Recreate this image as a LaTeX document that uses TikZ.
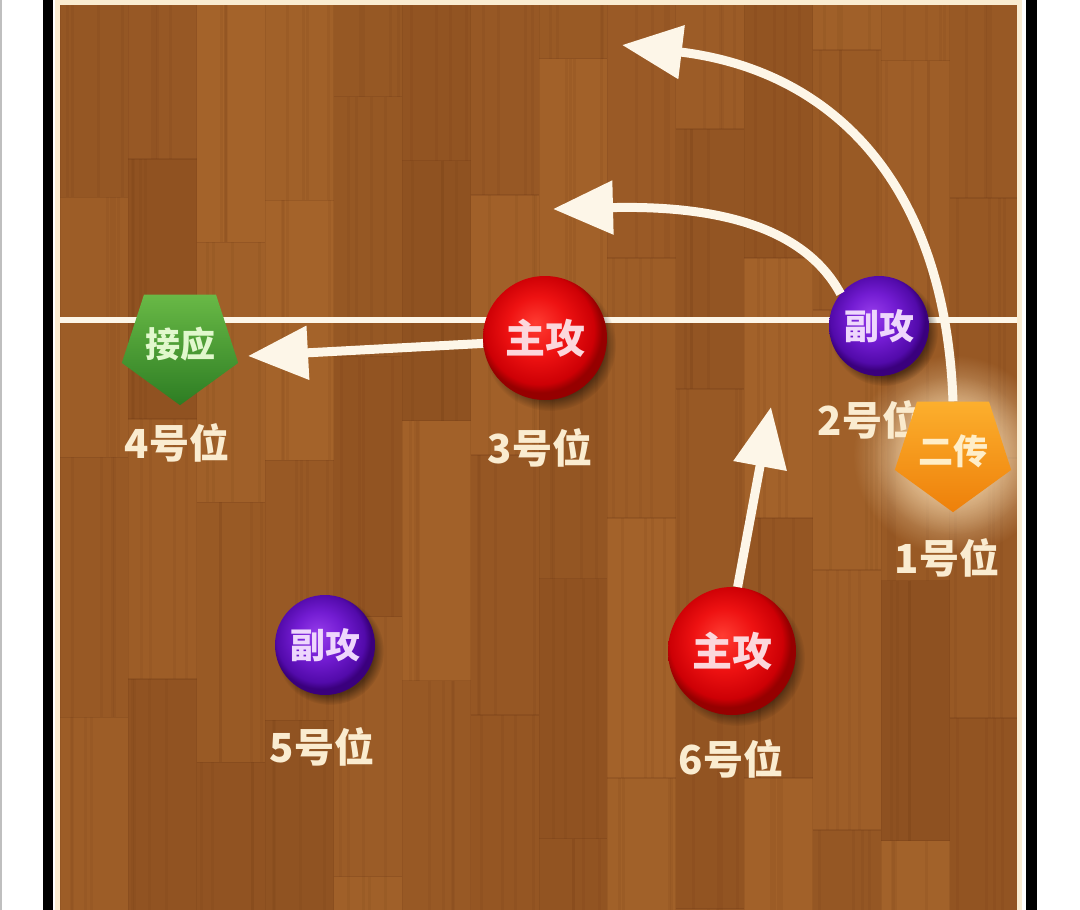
\documentclass[tikz,border=0pt]{standalone}
\usepackage{fontspec}
\newfontfamily\cjk{Noto Sans CJK SC}
\usetikzlibrary{arrows.meta,shapes.geometric,fadings}
\definecolor{woodA}{RGB}{172,106,46}
\definecolor{woodB}{RGB}{132,72,28}
\definecolor{woodC}{RGB}{95,45,15}
\definecolor{cream}{RGB}{250,236,208}
\definecolor{linec}{RGB}{253,246,232}
\definecolor{redA}{RGB}{255,60,50}
\definecolor{redB}{RGB}{238,18,18}
\definecolor{redC}{RGB}{205,0,5}
\definecolor{redD}{RGB}{150,0,0}
\definecolor{puA}{RGB}{150,60,235}
\definecolor{puB}{RGB}{115,28,210}
\definecolor{puC}{RGB}{82,10,170}
\definecolor{puD}{RGB}{58,0,125}
\definecolor{grA}{RGB}{105,185,70}
\definecolor{grB}{RGB}{45,125,35}
\definecolor{orA}{RGB}{252,175,45}
\definecolor{orB}{RGB}{238,128,10}
\definecolor{glowc}{RGB}{255,228,185}
\definecolor{txtR}{RGB}{252,215,220}
\definecolor{txtP}{RGB}{238,215,252}
\definecolor{txtG}{RGB}{225,248,205}
\definecolor{txtO}{RGB}{255,238,200}
\pgfdeclareradialshading{redball}{\pgfpoint{-4bp}{6bp}}{color(0bp)=(redA); color(12bp)=(redB); color(22bp)=(redC); color(25bp)=(redD); color(50bp)=(redD)}
\pgfdeclareradialshading{purpleball}{\pgfpoint{-4bp}{6bp}}{color(0bp)=(puA); color(12bp)=(puB); color(22bp)=(puC); color(25bp)=(puD); color(50bp)=(puD)}
\tikzfading[name=glowfade, inner color=transparent!0, outer color=transparent!100]
\tikzset{
  ballR/.style={circle, minimum size=#1, inner sep=0pt, shading=redball, text=txtR,
    font=\cjk\bfseries\fontsize{40}{44}\selectfont},
  ballP/.style={circle, minimum size=#1, inner sep=0pt, shading=purpleball, text=txtP,
    font=\cjk\bfseries\fontsize{35}{40}\selectfont},
  penta/.style={regular polygon, regular polygon sides=5, shape border rotate=180,
    minimum size=122pt, inner sep=0pt, font=\cjk\bfseries\fontsize{35}{40}\selectfont},
  pentG/.style={penta, top color=grA, bottom color=grB, text=txtG},
  pentO/.style={penta, top color=orA, bottom color=orB, text=txtO},
  poslab/.style={text=cream, font=\cjk\bfseries\fontsize{40}{44}\selectfont, inner sep=0pt},
  arr/.style={draw=linec, line width=9pt, -{Triangle[length=60pt,width=52pt]}},
  shadowc/.style={fill=black, fill opacity=0.45, path fading=circle with fuzzy edge 20 percent}
}
\begin{document}
\begin{tikzpicture}[x=1pt,y=-1pt]
\useasboundingbox (0,0) rectangle (1080,910);
\fill[white] (0,0) rectangle (1080,910);
\fill[gray!50] (0,0) rectangle (1.5,910);
% wood floor
\begin{scope}
\clip (60,5) rectangle (1018,910);
\fill[woodA!55!woodB] (60,5) rectangle (1018,910);
\pgfmathsetseed{42}
\foreach \i in {0,...,13}{
  \pgfmathsetmacro\xa{60+\i*68.43}
  \pgfmathsetmacro\yo{-rnd*260}
  \foreach \j in {0,...,4}{
    \pgfmathsetmacro\ya{\yo+\j*260}
    \pgfmathsetmacro\c{int(25+rnd*55)}
    \fill[woodA!\c!woodB] (\xa,\ya) rectangle ++(68.43,260);
    \foreach \k in {1,...,4}{
      \pgfmathsetmacro\gx{\xa+3+rnd*62}
      \draw[woodC, opacity=0.08, line width=3pt] (\gx,\ya) -- ++(0,260);
    }
    \draw[woodC, opacity=0.18, line width=1.5pt] (\xa,\ya) -- ++(68.43,0);
  }
  \draw[woodC, opacity=0.12, line width=1pt] (\xa,5) -- (\xa,910);
}
% glow around setter
\fill[glowc, path fading=glowfade] (953,455) circle (100);
\end{scope}
% borders
\fill[black] (43,0) rectangle (53,910);
\fill[cream] (55,0) rectangle (60,910);
\fill[cream] (55,0) rectangle (1022,5);
\fill[cream] (1017,0) rectangle (1022,910);
\fill[black] (1026,0) rectangle (1037,910);
% attack line
\draw[linec, line width=6pt] (60,320) -- (1017,320);
% shadows
\path[shadowc] (550,345) circle (66);
\path[shadowc] (884,332) circle (54);
\path[shadowc] (330,651) circle (54);
\path[shadowc] (737,658) circle (68);
% position labels
\node[poslab] (l4) at (177,443) {4号位};
\node[poslab] (l3) at (540,448) {3号位};
\node[poslab] (l2) at (870,420) {2号位};
\node[poslab] (l1) at (947,558) {1号位};
\node[poslab] (l5) at (322,747) {5号位};
\node[poslab] (l6) at (731,759) {6号位};
% setter glow (inner part, over label)
\begin{scope}
\clip (60,5) rectangle (1018,910);
\fill[glowc, fill opacity=0.6, path fading=glowfade] (953,455) circle (80);
\end{scope}
% players
\node[pentG] (r4) at (180,344) {接应};
\node[ballR=124pt] (m3) at (545,338) {主攻};
\node[ballP=100pt] (p2) at (879,326) {副攻};
\node[pentO] (s1) at (953,451) {二传};
\node[ballP=100pt] (p5) at (325,645) {副攻};
\node[ballR=128pt] (m6) at (732,651) {主攻};
% arrow tips
\coordinate (t1) at (248,356);
\coordinate (t2) at (553,209);
\coordinate (t3) at (622,45);
\coordinate (t4) at (771,407);
% arrows
\draw[arr] (m3.185) -- (t1);
\draw[arr] (p2.140) .. controls (805,228) and (720,205) .. (t2);
\draw[arr] (s1.north) .. controls (945,180) and (830,70) .. (t3);
\draw[arr] (m6.85) -- (t4);
\end{tikzpicture}
\end{document}
